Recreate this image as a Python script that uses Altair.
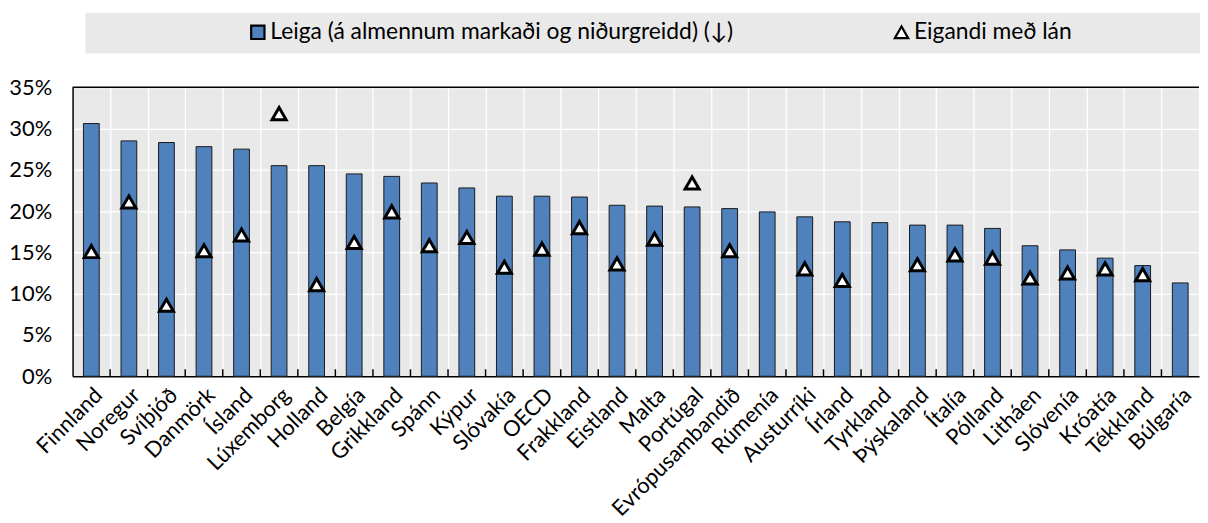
import altair as alt
import pandas as pd

countries = ["Finnland", "Noregur", "Svíþjóð", "Danmörk", "Ísland", "Lúxemborg", "Holland",
             "Belgía", "Grikkland", "Spánn", "Kýpur", "Slóvakía", "OECD", "Frakkland",
             "Eistland", "Malta", "Portúgal", "Evrópusambandið", "Rúmenía", "Austurríki",
             "Írland", "Tyrkland", "Þýskaland", "Ítalía", "Pólland", "Litháen", "Slóvenía",
             "Króatía", "Tékkland", "Búlgaría"]
rent = [30.6, 28.5, 28.3, 27.8, 27.5, 25.5, 25.5, 24.5, 24.2, 23.4, 22.8, 21.8, 21.8, 21.7,
        20.7, 20.6, 20.5, 20.3, 19.9, 19.3, 18.7, 18.6, 18.3, 18.3, 17.9, 15.8, 15.3, 14.3,
        13.4, 11.3]
owner = [15.1, 21.1, 8.6, 15.2, 17.1, 31.8, 11.1, 16.2, 19.9, 15.8, 16.8, 13.2, 15.4, 18.0,
         13.6, 16.6, 23.4, 15.2, None, 13.0, 11.6, None, 13.5, 14.7, 14.3, 11.9, 12.5, 13.0,
         12.3, None]
series_names = ["Leiga (á almennum markaði og niðurgreidd) (↓)", "Eigandi með lán"]
y_ticks = [0, 5, 10, 15, 20, 25, 30, 35]

W = 1134
H = 291
STEP = W / len(countries)
FONT = "Lato"
GRAY = "#e9e9e9"

rows = []
for c, r, o in zip(countries, rent, owner):
    rows.append({"country": c, "series": series_names[0], "value": r})
    if o is not None:
        rows.append({"country": c, "series": series_names[1], "value": o})
df = pd.DataFrame(rows)

legend = alt.Legend(
    title=None, orient="none", legendX=175, legendY=-67, direction="horizontal",
    labelFont=FONT, labelFontSize=23, labelColor="black", labelLimit=700, symbolSize=180,
    symbolStrokeColor="black", symbolStrokeWidth=2.2, columnPadding=157, labelOffset=1,
    zindex=1,
)
color_enc = alt.Color("series:N", scale=alt.Scale(domain=series_names, range=["#4f81bd", "white"]),
                      legend=legend)
shape_enc = alt.Shape("series:N", scale=alt.Scale(domain=series_names, range=["square", "triangle-up"]),
                      legend=legend)

x_enc = alt.X(
    "country:N", sort=countries, scale=alt.Scale(paddingInner=0, paddingOuter=0),
    axis=alt.Axis(title=None, labelAngle=-45, labelFont=FONT, labelFontSize=22, labelColor="black",
                  ticks=False, grid=True, gridColor="white", gridWidth=1.3, tickBand="extent",
                  domainColor="black", domainWidth=1.5, labelPadding=8),
)
y_enc = alt.Y(
    "value:Q", scale=alt.Scale(domain=[0, 35], nice=False),
    axis=alt.Axis(values=y_ticks, labelExpr="datum.value + '%'", title=None, ticks=False,
                  grid=True, gridColor="white", gridWidth=1.3, domainColor="black", domainWidth=1.5,
                  labelFont=FONT, labelFontSize=22, labelColor="black", labelPadding=21,
                  minExtent=65, maxExtent=65),
)

base = alt.Chart(df)

bars = base.transform_filter(alt.datum.series == series_names[0]).mark_bar(
    stroke="#1a1a1a", strokeWidth=1, width=alt.RelativeBandSize(0.42)
).encode(x=x_enc, y=y_enc, color=color_enc)

points = base.transform_filter(alt.datum.series == series_names[1]).mark_point(
    filled=True, size=200, stroke="black", strokeWidth=3, opacity=1
).encode(x=x_enc, y=y_enc, color=color_enc, shape=shape_enc)

tick_df = pd.DataFrame({"country": countries[1:]})
ticks = alt.Chart(tick_df).mark_rule(color="black", strokeWidth=1.5, xOffset=-STEP / 2).encode(
    x=alt.X("country:N", sort=countries), y=alt.value(H - 7), y2=alt.value(H)
)

frame_df = pd.DataFrame({"k": [0]})
top_line = alt.Chart(frame_df).mark_rule(color="black", strokeWidth=1.5).encode(
    x=alt.value(0), x2=alt.value(W), y=alt.value(0)
)
legend_box = alt.Chart(frame_df).mark_rect(color=GRAY).encode(
    x=alt.value(13), x2=alt.value(W + 1), y=alt.value(-75), y2=alt.value(-34)
)

chart = alt.layer(legend_box, bars, points, ticks, top_line).properties(
    width=W, height=H, padding={"left": 0, "top": 3, "right": 0, "bottom": 0}
).configure_view(fill=GRAY, stroke="transparent")

chart.save("out.html", embed_options={"renderer": "svg", "actions": False})
